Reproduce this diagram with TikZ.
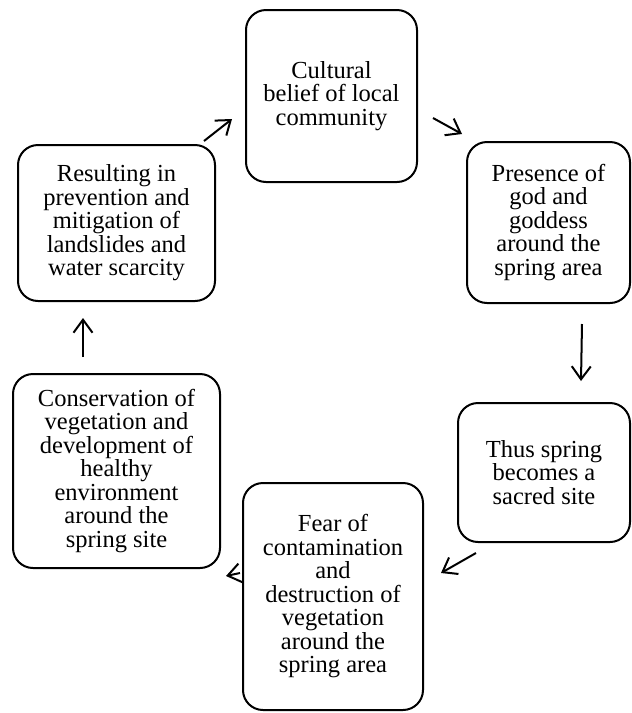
\documentclass[tikz,border=0pt]{standalone}
\usepackage{fontspec}
\setmainfont{Liberation Serif}
\usetikzlibrary{positioning,arrows.meta}

\begin{document}
\begin{tikzpicture}[x=1pt,y=-1pt,font=\fontsize{24.5}{23.5}\selectfont]
    \tikzstyle{stage}=[draw, line width=2pt, rounded corners=20pt, align=center, inner sep=0pt]
    \tikzstyle{arr}=[line width=2pt, -{Straight Barb[length=13pt,width=19pt]}]
    \useasboundingbox (0,0) rectangle (632,713);
    \node[stage,minimum width=171pt,minimum height=172pt] (cultural) at (331.5,96) {Cultural\\belief of local\\community};
    \node[stage,minimum width=163pt,minimum height=161pt] (presence) at (548.5,222.5) {Presence of\\god and\\goddess\\around the\\spring area};
    \node[stage,minimum width=172pt,minimum height=139pt] (sacred) at (544,472.5) {Thus spring\\becomes a\\sacred site};
    \node[stage,minimum width=180pt,minimum height=227pt] (fear) at (333,596.5) {Fear of\\contamination\\and\\destruction of\\vegetation\\around the\\spring area};
    \node[stage,minimum width=207pt,minimum height=194pt] (conservation) at (116.5,471) {Conservation of\\vegetation and\\development of\\healthy\\environment\\around the\\spring site};
    \node[stage,minimum width=197pt,minimum height=156pt] (resulting) at (116.5,223) {Resulting in\\prevention and\\mitigation of\\landslides and\\water scarcity};
    % cycle arrows
    \draw[arr] ([shift={(-12,-3)}]resulting.north east) -- ([shift={(-13,23)}]cultural.west);
    \draw[arr] ([shift={(15,22)}]cultural.east) -- ([shift={(-4,-7)}]presence.north west);
    \draw[arr] ([shift={(33.5,20)}]presence.south) -- ([shift={(37,-21)}]sacred.north);
    \draw[arr] ([shift={(19,10)}]sacred.south west) -- ([shift={(17,-23.5)}]fear.east);
    \draw[arr] ([shift={(-2,-23.5)}]fear.west) -- ([shift={(5,7)}]conservation.south east);
    \draw[arr] ([shift={(-33.5,-16)}]conservation.north) -- ([shift={(-33.5,16)}]resulting.south);
\end{tikzpicture}
\end{document}
